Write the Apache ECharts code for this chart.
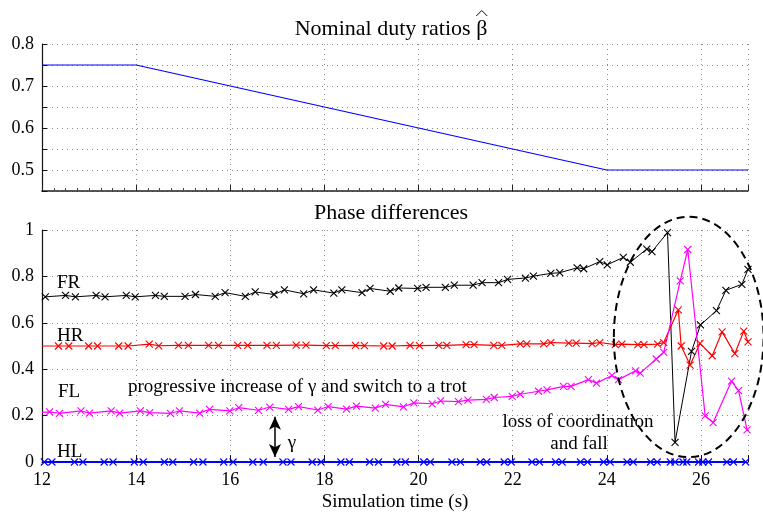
<!DOCTYPE html>
<html><head><meta charset="utf-8">
<script src="https://cdn.jsdelivr.net/npm/echarts@6/dist/echarts.min.js"></script>
<style>html,body{margin:0;padding:0;background:#fff}#c{width:763px;height:513px}</style>
</head><body><div id="c"></div>
<script>
// ---- data ----
const betaTime = [12, 14, 24, 27];
const betaValue = [0.75, 0.75, 0.5, 0.5];

const frTime = [12.07,12.50,12.71,13.15,13.34,13.79,13.98,14.41,14.60,15.04,15.26,15.68,15.89,16.32,16.53,16.93,17.15,17.56,17.77,18.20,18.37,18.80,18.97,19.40,19.58,19.98,20.16,20.57,20.76,21.16,21.35,21.70,21.89,22.27,22.44,22.81,23.00,23.37,23.51,23.85,24.01,24.35,24.50,24.85,24.96,25.29,25.45,25.80,25.99,26.33,26.53,26.87,27.00];
const frValue = [0.712,0.718,0.712,0.718,0.712,0.718,0.712,0.718,0.714,0.714,0.722,0.714,0.730,0.714,0.733,0.722,0.742,0.725,0.742,0.728,0.742,0.730,0.748,0.736,0.750,0.748,0.753,0.753,0.762,0.762,0.773,0.773,0.787,0.793,0.801,0.813,0.816,0.837,0.833,0.864,0.850,0.882,0.861,0.918,0.907,0.989,0.085,0.477,0.591,0.652,0.740,0.766,0.830];

const hrTime = [12.00,12.35,12.57,12.99,13.18,13.63,13.83,14.28,14.48,14.90,15.11,15.54,15.75,16.16,16.37,16.78,16.98,17.40,17.61,18.04,18.23,18.66,18.85,19.26,19.44,19.82,20.02,20.43,20.60,21.01,21.18,21.60,21.77,22.16,22.30,22.66,22.81,23.19,23.35,23.69,23.85,24.18,24.32,24.66,24.79,25.08,25.21,25.52,25.58,25.77,25.98,26.24,26.45,26.72,26.91,27.00];
const hrValue = [0.500,0.500,0.500,0.500,0.500,0.500,0.500,0.508,0.501,0.503,0.503,0.503,0.503,0.503,0.503,0.503,0.503,0.504,0.504,0.502,0.502,0.503,0.502,0.500,0.500,0.503,0.502,0.503,0.503,0.506,0.506,0.503,0.503,0.509,0.509,0.509,0.515,0.512,0.512,0.510,0.515,0.506,0.508,0.506,0.506,0.508,0.515,0.656,0.500,0.418,0.511,0.458,0.561,0.467,0.564,0.518];

const flTime = [12.00,12.16,12.37,12.83,13.01,13.47,13.65,14.09,14.29,14.73,14.92,15.35,15.56,15.99,16.18,16.60,16.84,17.24,17.45,17.86,18.08,18.47,18.68,19.08,19.30,19.68,19.90,20.29,20.47,20.85,21.05,21.44,21.61,21.99,22.16,22.55,22.73,23.08,23.24,23.61,23.78,24.11,24.25,24.61,24.71,25.05,25.21,25.56,25.72,26.09,26.26,26.65,26.80,26.98];
const flValue = [0.214,0.216,0.210,0.220,0.211,0.220,0.211,0.220,0.213,0.210,0.220,0.211,0.227,0.220,0.234,0.223,0.237,0.227,0.239,0.224,0.239,0.228,0.241,0.232,0.248,0.238,0.255,0.251,0.263,0.260,0.267,0.270,0.278,0.283,0.292,0.305,0.311,0.326,0.326,0.355,0.340,0.373,0.355,0.393,0.383,0.444,0.473,0.781,0.916,0.199,0.170,0.349,0.308,0.138];

const hlTime = [12.05,12.21,12.69,12.87,13.32,13.51,13.96,14.15,14.60,14.78,15.22,15.42,15.86,16.06,16.48,16.70,17.12,17.29,17.74,17.93,18.35,18.53,18.96,19.15,19.54,19.72,20.11,20.25,20.71,20.89,21.31,21.45,21.82,21.97,22.41,22.57,22.91,23.05,23.44,23.59,23.93,24.07,24.43,24.56,24.93,25.07,25.35,25.45,25.62,25.70,25.95,26.04,26.16,26.55,26.69,26.95];
const hlValue = [0,0,0,0,0,0,0,0,0,0,0,0,0,0,0,0,0,0,0,0,0,0,0,0,0,0,0,0,0,0,0,0,0,0,0,0,0,0,0,0,0,0,0,0,0,0,0,0,0,0,0,0,0,0,0,0];

const xTicks = ['12','14','16','18','20','22','24','26'];

// ---- chart ----
const FONT = 'Liberation Serif';
const dotted = {color:'#8a8a8a', type:[1,4], width:1};
const xSym = 'path://M0,0L10,10M10,0L0,10';
function pairs(t, v, firstNoSymbol) {
  return t.map((x, i) => (i === 0 && firstNoSymbol) ? {value:[x, v[i]], symbol:'none'} : {value:[x, v[i]]});
}
function phaseSeries(name, t, v, color, lw, firstNoSymbol) {
  return {
    name, type:'line', xAxisIndex:1, yAxisIndex:1, z:3,
    data: pairs(t, v, firstNoSymbol),
    symbol: xSym, symbolSize: 7, showAllSymbol: true,
    lineStyle:{color, width:lw},
    itemStyle:{color, borderColor:color, borderWidth:1.1},
    emphasis:{disabled:true}
  };
}

const chart = echarts.init(document.getElementById('c'), null, {renderer:'canvas'});
const axisLineStyle = {show:true, lineStyle:{color:'#111', width:1.2}};
const labelStyle = {color:'#000', fontFamily:FONT, fontSize:18};

const hlSeries = phaseSeries('HL', hlTime, hlValue, '#0000ff', 2.2, false);
hlSeries.markLine = {
  silent:true, animation:false,
  symbol:['arrow','arrow'], symbolSize:[9,13],
  label:{show:false},
  lineStyle:{color:'#000', width:1.5, type:'solid'},
  data:[[{coord:[16.95,0.195]},{coord:[16.95,0.022]}]]
};

const option = {
  animation:false,
  backgroundColor:'#fff',
  grid:[
    {left:42, right:15, top:44, height:147},
    {left:42, right:15, top:230, height:235}
  ],
  xAxis:[
    {gridIndex:0, type:'value', min:12, max:27, interval:2,
     axisLine:{show:true, lineStyle:{color:'#222', width:1.6}},
     axisTick:{show:true, inside:true, length:6, lineStyle:{color:'#222'}},
     minorTick:{show:true, splitNumber:8, length:3, lineStyle:{color:'#444'}},
     axisLabel:{show:false},
     splitLine:{show:true, lineStyle:dotted}},
    {gridIndex:1, type:'value', min:12, max:27, interval:2,
     axisLine:axisLineStyle,
     axisTick:{show:true, inside:true, length:7, lineStyle:{color:'#111'}},
     axisLabel:Object.assign({margin:9, formatter:(v)=>{const s=String(Math.round(v)); return xTicks.indexOf(s)>=0?s:'';}}, labelStyle),
     splitLine:{show:true, lineStyle:dotted},
     name:'Simulation time (s)', nameLocation:'middle', nameGap:31,
     nameTextStyle:{color:'#000', fontFamily:FONT, fontSize:19}}
  ],
  yAxis:[
    {gridIndex:0, type:'value', min:0.45, max:0.8, interval:0.05,
     axisLine:axisLineStyle,
     axisTick:{show:true, inside:true, length:5, lineStyle:{color:'#111'}},
     axisLabel:Object.assign({margin:8, formatter:(v)=>{const k=Math.round(v*100); return (k%10===0)?(k/100).toFixed(1):'';}}, labelStyle),
     splitLine:{show:true, lineStyle:dotted}},
    {gridIndex:1, type:'value', min:0, max:1, interval:0.2,
     axisLine:axisLineStyle,
     axisTick:{show:true, inside:true, length:5, lineStyle:{color:'#111'}},
     axisLabel:Object.assign({margin:8, formatter:(v)=>{const k=Math.round(v*10); return k===0?'0':k===10?'1':(k/10).toFixed(1);}}, labelStyle),
     splitLine:{show:true, lineStyle:dotted}}
  ],
  series:[
    {name:'beta', type:'line', xAxisIndex:0, yAxisIndex:0,
     data:betaTime.map((t,i)=>[t, betaValue[i]]),
     showSymbol:false, lineStyle:{color:'#0000ff', width:1.2}},
    phaseSeries('FR', frTime, frValue, '#000000', 1, false),
    phaseSeries('HR', hrTime, hrValue, '#ff0000', 1.2, true),
    phaseSeries('FL', flTime, flValue, '#ff00ff', 1.2, true),
    hlSeries
  ]
};
chart.setOption(option);

const c = chart.convertToPixel({gridIndex:1}, [25.74, 0.539]);
const e = chart.convertToPixel({gridIndex:1}, [25.74 + 1.59, 0.539 - 0.518]);
const txt = (text, x, y, size, align) => ({type:'text', x, y, z:10, silent:true,
  style:{text, fill:'#000', font:size+'px "'+FONT+'"', align:align||'left', verticalAlign:'middle'}});

// title with hatted beta
const ctx = document.createElement('canvas').getContext('2d');
ctx.font = '22px "' + FONT + '"';
const t1a = 'Nominal duty ratios ';
const wA = ctx.measureText(t1a).width, wB = ctx.measureText('\u03B2').width;
const t1Left = 391 - (wA + wB) / 2;
const hatX = t1Left + wA + wB / 2;

chart.setOption({
  graphic:[
    txt(t1a + '\u03B2', t1Left, 29, 22, 'left'),
    {type:'polyline', silent:true, z:10,
     shape:{points:[[hatX-5.5, 16], [hatX, 10.5], [hatX+5.5, 16]]},
     style:{stroke:'#000', lineWidth:1, fill:'none'}},
    txt('Phase differences', 391, 213, 22, 'center'),
    txt('FR', 57, 283, 19),
    txt('HR', 57, 336, 19),
    txt('FL', 58, 392, 19),
    txt('HL', 57, 452, 19),
    txt('progressive increase of \u03B3 and switch to a trot', 128, 387, 19),
    txt('\u03B3', 292, 443, 19, 'center'),
    txt('loss of coordination', 578, 422, 19, 'center'),
    txt('and fall', 579, 444, 19, 'center'),
    {type:'ellipse', z:9, silent:true,
     shape:{cx:c[0], cy:c[1], rx:Math.abs(e[0]-c[0]), ry:Math.abs(e[1]-c[1])},
     style:{fill:'none', stroke:'#000', lineWidth:2, lineDash:[8,5]}}
  ]
});
</script>
</body></html>
